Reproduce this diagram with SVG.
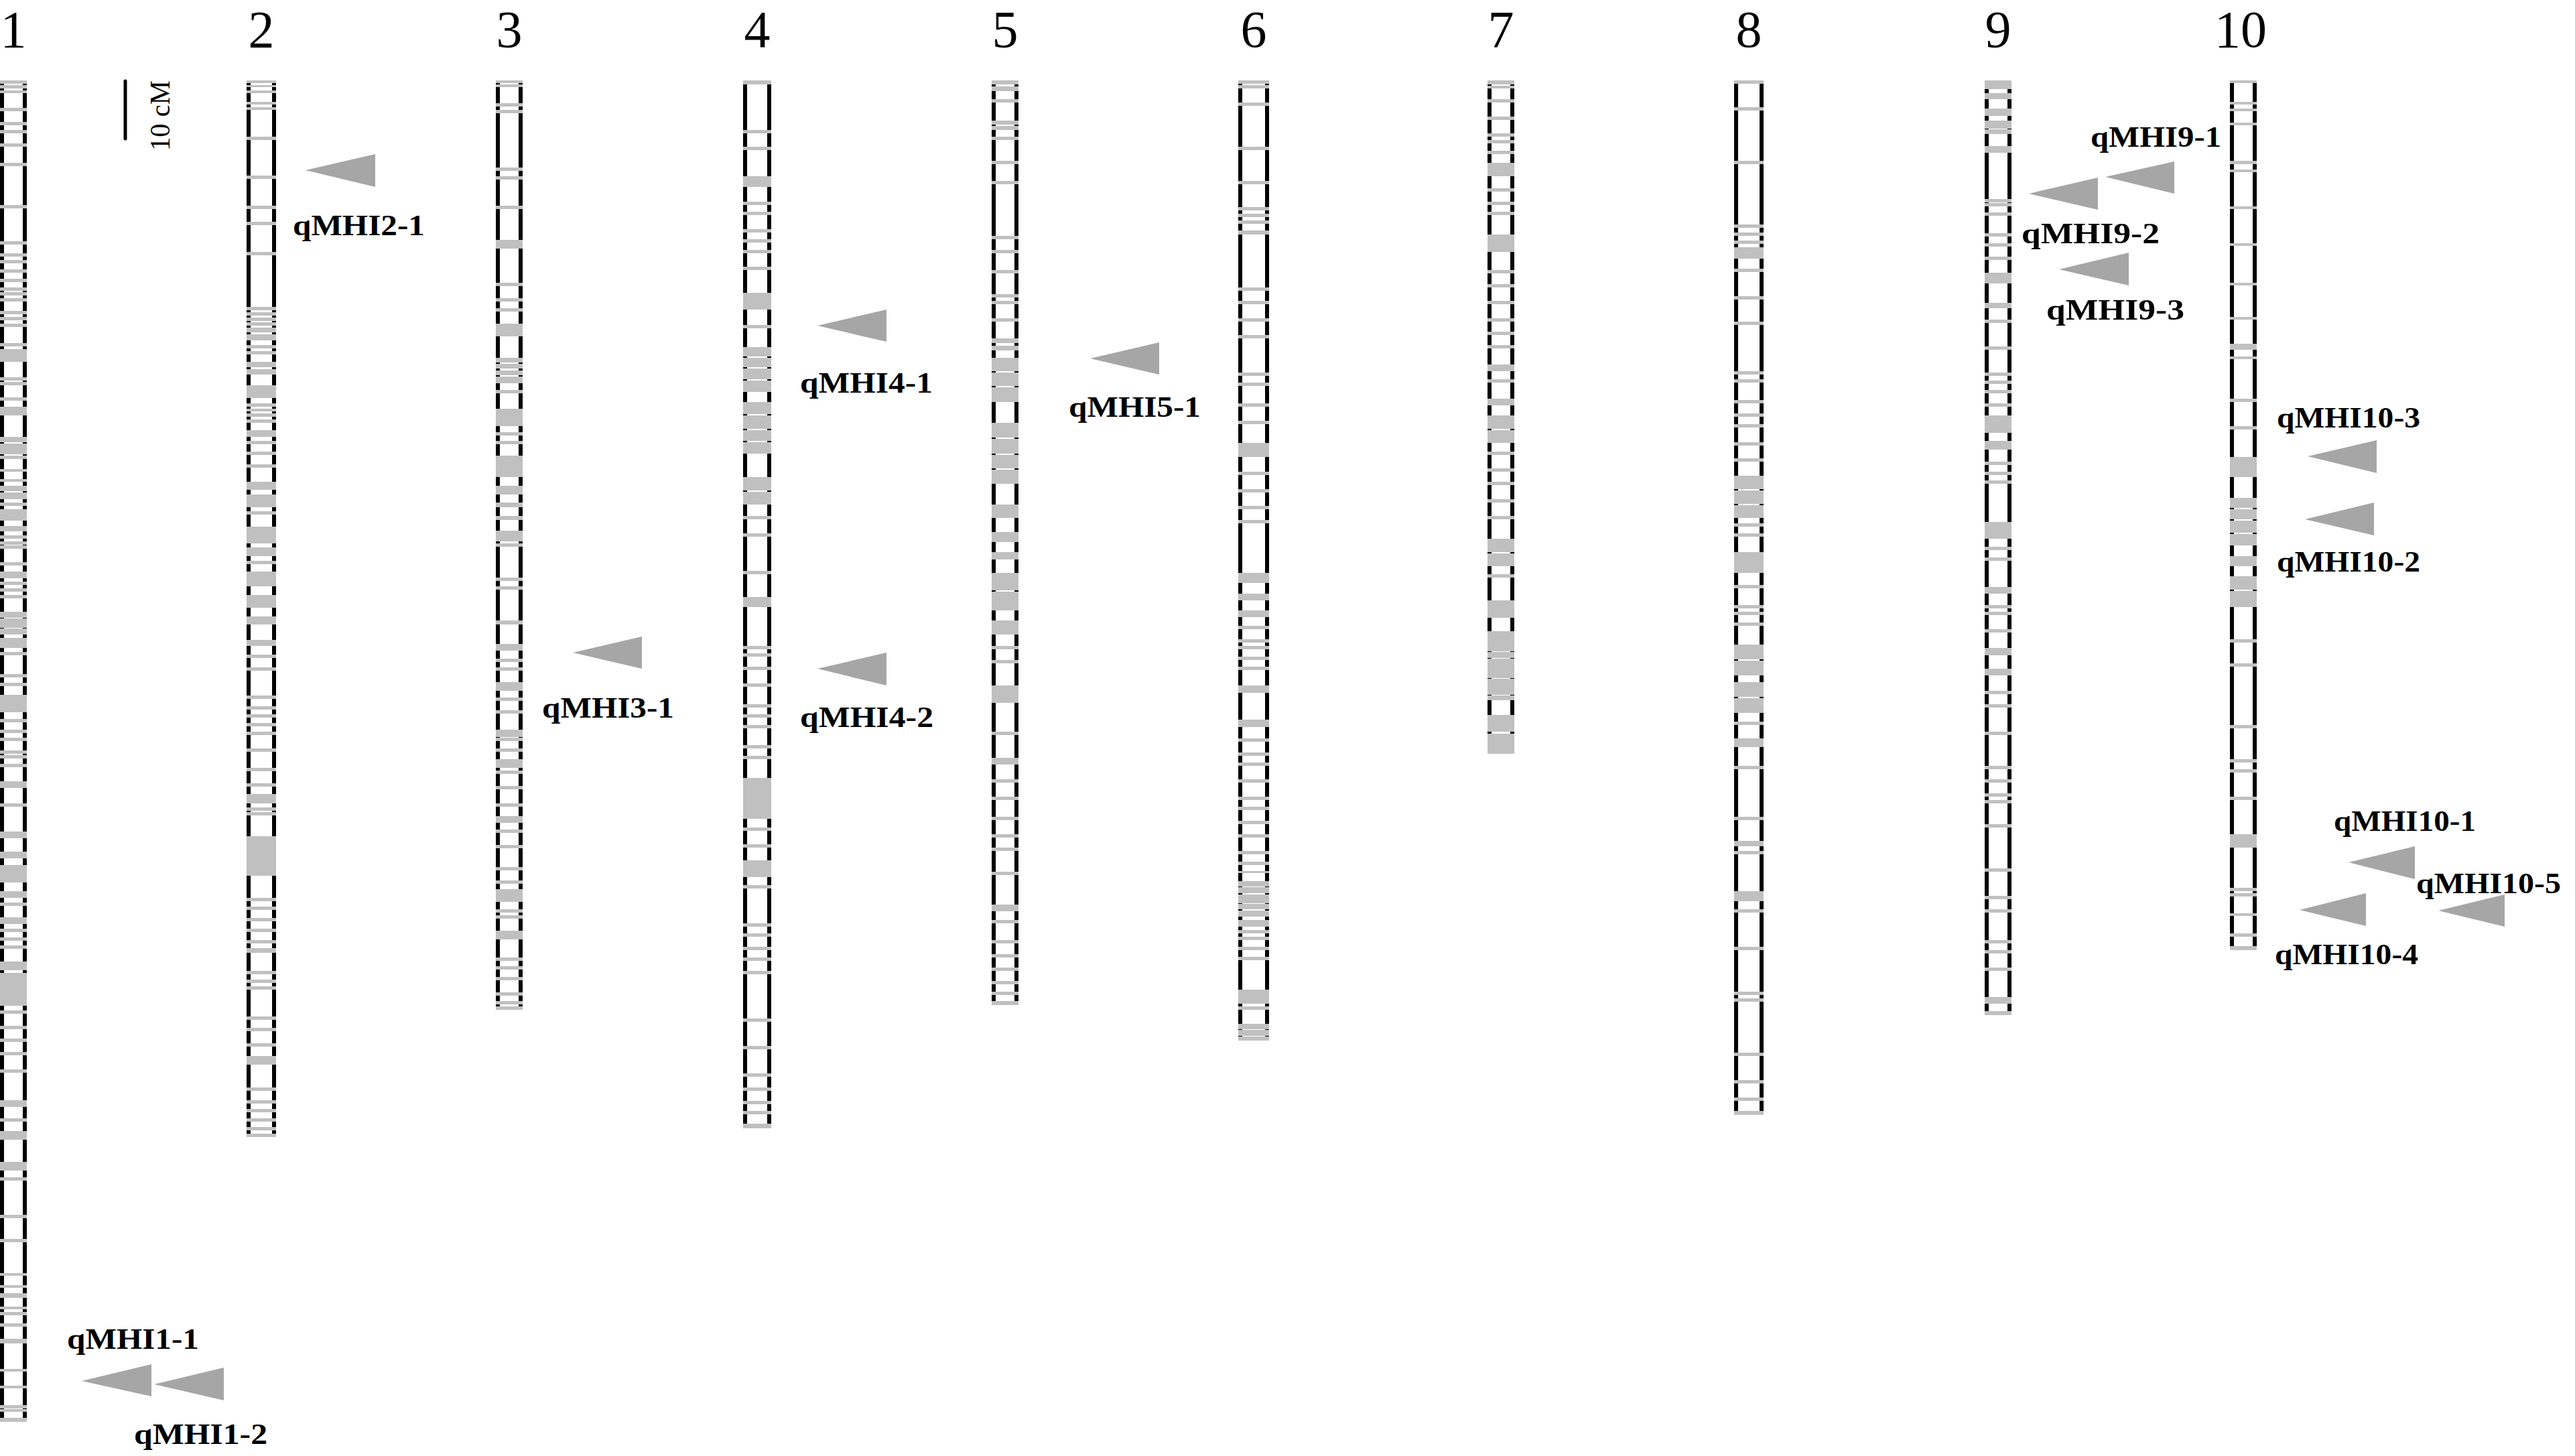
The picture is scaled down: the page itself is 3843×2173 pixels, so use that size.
<svg xmlns="http://www.w3.org/2000/svg" width="3843" height="2173" viewBox="0 0 3843 2173">
<style>
.edge{fill:#000}
.band{fill:#c0c0c0}
.num{font-family:"Liberation Serif","Times New Roman",serif;font-size:78px;text-anchor:middle;fill:#000}
.qtl{fill:#a6a6a6}
.lbl{font-family:"Liberation Serif","Times New Roman",serif;font-weight:bold;font-size:45px;fill:#000}
.scale{stroke:#000;stroke-width:5;stroke-linecap:round}
.scaletxt{font-family:"Liberation Serif","Times New Roman",serif;font-size:43px;fill:#000}
</style>
<rect width="3843" height="2173" fill="#fff"/>
<g id="scalebar">
<line class="scale" x1="187" y1="121" x2="187" y2="207"/>
<text class="scaletxt" transform="translate(253,225) rotate(-90)" textLength="105" lengthAdjust="spacingAndGlyphs">10 cM</text>
</g>
<g id="chr1" transform="translate(0,0)">
<text class="num" x="20" y="70">1</text>
<rect class="edge" x="0" y="120" width="6" height="2002"/><rect class="edge" x="34" y="120" width="6" height="2002"/>
<path class="band" d="M0 120h40v5h-40z M0 127h40v5h-40z M0 135h40v4h-40z M0 161h40v5h-40z M0 182h40v5h-40z M0 194h40v5h-40z M0 214h40v5h-40z M0 243h40v5h-40z M0 306h40v5h-40z M0 360h40v5h-40z M0 378h40v5h-40z M0 388h40v5h-40z M0 402h40v5h-40z M0 416h40v5h-40z M0 429h40v5h-40z M0 436h40v5h-40z M0 445h40v5h-40z M0 464h40v5h-40z M0 473h40v5h-40z M0 483h40v5h-40z M0 512h40v5h-40z M0 521h40v19h-40z M0 563h40v5h-40z M0 570h40v5h-40z M0 593h40v5h-40z M0 607h40v13h-40z M0 652h40v8h-40z M0 662h40v16h-40z M0 680h40v5h-40z M0 700h40v4h-40z M0 715h40v4h-40z M0 725h40v8h-40z M0 735h40v10h-40z M0 750h40v5h-40z M0 760h40v17h-40z M0 785h40v8h-40z M0 799h40v5h-40z M0 808h40v5h-40z M0 814h40v5h-40z M0 839h40v5h-40z M0 853h40v10h-40z M0 868h40v5h-40z M0 878h40v5h-40z M0 888h40v5h-40z M0 913h40v9h-40z M0 923h40v14h-40z M0 938h40v9h-40z M0 952h40v15h-40z M0 973h40v5h-40z M0 1006h40v5h-40z M0 1019h40v5h-40z M0 1037h40v26h-40z M0 1073h40v5h-40z M0 1089h40v5h-40z M0 1101h40v5h-40z M0 1120h40v5h-40z M0 1127h40v5h-40z M0 1140h40v5h-40z M0 1166h40v10h-40z M0 1199h40v5h-40z M0 1241h40v10h-40z M0 1271h40v10h-40z M0 1291h40v26h-40z M0 1330h40v10h-40z M0 1347h40v5h-40z M0 1369h40v10h-40z M0 1386h40v5h-40z M0 1399h40v5h-40z M0 1411h40v5h-40z M0 1435h40v13h-40z M0 1452h40v49h-40z M0 1508h40v5h-40z M0 1531h40v5h-40z M0 1550h40v5h-40z M0 1570h40v5h-40z M0 1596h40v5h-40z M0 1642h40v10h-40z M0 1669h40v5h-40z M0 1688h40v13h-40z M0 1734h40v13h-40z M0 1757h40v5h-40z M0 1813h40v5h-40z M0 1849h40v5h-40z M0 1900h40v4h-40z M0 1918h40v4h-40z M0 1930h40v7h-40z M0 1950h40v4h-40z M0 1958h40v5h-40z M0 1975h40v5h-40z M0 1998h40v7h-40z M0 2043h40v4h-40z M0 2068h40v4h-40z M0 2097h40v5h-40z M0 2103h40v4h-40z M0 2116h40v6h-40z"/>
</g>
<g id="chr2" transform="translate(368,0)">
<text class="num" x="22" y="70">2</text>
<rect class="edge" x="0" y="120" width="6" height="1577"/><rect class="edge" x="38" y="120" width="6" height="1577"/>
<path class="band" d="M0 120h44v4h-44z M0 127h44v3h-44z M0 135h44v4h-44z M0 152h44v4h-44z M0 160h44v4h-44z M0 204h44v5h-44z M0 262h44v5h-44z M0 307h44v5h-44z M0 331h44v5h-44z M0 376h44v5h-44z M0 458h44v5h-44z M0 466h44v5h-44z M0 474h44v5h-44z M0 481h44v5h-44z M0 489h44v7h-44z M0 499h44v9h-44z M0 515h44v5h-44z M0 524h44v5h-44z M0 540h44v8h-44z M0 551h44v8h-44z M0 575h44v19h-44z M0 602h44v5h-44z M0 610h44v4h-44z M0 617h44v5h-44z M0 626h44v5h-44z M0 642h44v10h-44z M0 658h44v5h-44z M0 674h44v5h-44z M0 693h44v5h-44z M0 719h44v12h-44z M0 738h44v19h-44z M0 763h44v5h-44z M0 786h44v25h-44z M0 817h44v13h-44z M0 837h44v5h-44z M0 853h44v22h-44z M0 888h44v19h-44z M0 920h44v12h-44z M0 955h44v9h-44z M0 977h44v5h-44z M0 996h44v5h-44z M0 1038h44v5h-44z M0 1054h44v5h-44z M0 1066h44v5h-44z M0 1079h44v5h-44z M0 1092h44v5h-44z M0 1117h44v5h-44z M0 1146h44v5h-44z M0 1169h44v5h-44z M0 1185h44v14h-44z M0 1205h44v5h-44z M0 1212h44v5h-44z M0 1248h44v59h-44z M0 1340h44v5h-44z M0 1353h44v5h-44z M0 1370h44v5h-44z M0 1386h44v5h-44z M0 1403h44v5h-44z M0 1415h44v7h-44z M0 1449h44v5h-44z M0 1462h44v5h-44z M0 1472h44v5h-44z M0 1517h44v5h-44z M0 1534h44v5h-44z M0 1557h44v5h-44z M0 1576h44v13h-44z M0 1623h44v5h-44z M0 1642h44v5h-44z M0 1655h44v5h-44z M0 1669h44v5h-44z M0 1682h44v5h-44z M0 1692h44v5h-44z"/>
</g>
<g id="chr3" transform="translate(740,0)">
<text class="num" x="20" y="70">3</text>
<rect class="edge" x="0" y="120" width="6" height="1387"/><rect class="edge" x="34" y="120" width="6" height="1387"/>
<path class="band" d="M0 120h40v4h-40z M0 126h40v4h-40z M0 154h40v5h-40z M0 164h40v5h-40z M0 250h40v5h-40z M0 263h40v5h-40z M0 307h40v5h-40z M0 358h40v13h-40z M0 422h40v5h-40z M0 445h40v5h-40z M0 460h40v5h-40z M0 483h40v19h-40z M0 534h40v7h-40z M0 543h40v7h-40z M0 553h40v7h-40z M0 562h40v10h-40z M0 582h40v5h-40z M0 610h40v26h-40z M0 645h40v5h-40z M0 658h40v5h-40z M0 680h40v32h-40z M0 725h40v13h-40z M0 750h40v7h-40z M0 770h40v6h-40z M0 792h40v16h-40z M0 811h40v5h-40z M0 862h40v5h-40z M0 875h40v5h-40z M0 926h40v6h-40z M0 961h40v10h-40z M0 983h40v5h-40z M0 996h40v5h-40z M0 1018h40v13h-40z M0 1041h40v5h-40z M0 1060h40v5h-40z M0 1089h40v11h-40z M0 1101h40v5h-40z M0 1117h40v5h-40z M0 1133h40v13h-40z M0 1150h40v5h-40z M0 1173h40v5h-40z M0 1199h40v5h-40z M0 1218h40v10h-40z M0 1238h40v5h-40z M0 1261h40v5h-40z M0 1294h40v5h-40z M0 1314h40v5h-40z M0 1327h40v19h-40z M0 1357h40v5h-40z M0 1366h40v5h-40z M0 1389h40v13h-40z M0 1429h40v5h-40z M0 1442h40v5h-40z M0 1458h40v5h-40z M0 1481h40v5h-40z M0 1494h40v5h-40z M0 1502h40v5h-40z"/>
</g>
<g id="chr4" transform="translate(1109,0)">
<text class="num" x="21" y="70">4</text>
<rect class="edge" x="0" y="120" width="6" height="1564"/><rect class="edge" x="36" y="120" width="6" height="1564"/>
<path class="band" d="M0 120h42v6h-42z M0 194h42v5h-42z M0 219h42v5h-42z M0 263h42v16h-42z M0 301h42v5h-42z M0 316h42v5h-42z M0 342h42v5h-42z M0 357h42v5h-42z M0 373h42v5h-42z M0 398h42v5h-42z M0 437h42v25h-42z M0 485h42v5h-42z M0 518h42v14h-42z M0 534h42v14h-42z M0 550h42v16h-42z M0 568h42v17h-42z M0 600h42v18h-42z M0 620h42v20h-42z M0 642h42v16h-42z M0 660h42v17h-42z M0 712h42v20h-42z M0 734h42v19h-42z M0 770h42v5h-42z M0 796h42v5h-42z M0 852h42v5h-42z M0 891h42v15h-42z M0 964h42v5h-42z M0 975h42v5h-42z M0 995h42v5h-42z M0 1020h42v5h-42z M0 1051h42v5h-42z M0 1066h42v5h-42z M0 1082h42v5h-42z M0 1112h42v5h-42z M0 1128h42v5h-42z M0 1161h42v61h-42z M0 1235h42v5h-42z M0 1260h42v5h-42z M0 1284h42v25h-42z M0 1321h42v5h-42z M0 1378h42v5h-42z M0 1393h42v5h-42z M0 1413h42v5h-42z M0 1429h42v5h-42z M0 1449h42v5h-42z M0 1520h42v5h-42z M0 1561h42v5h-42z M0 1602h42v5h-42z M0 1623h42v5h-42z M0 1643h42v5h-42z M0 1658h42v5h-42z M0 1677h42v7h-42z"/>
</g>
<g id="chr5" transform="translate(1480,0)">
<text class="num" x="20" y="70">5</text>
<rect class="edge" x="0" y="120" width="6" height="1380"/><rect class="edge" x="34" y="120" width="6" height="1380"/>
<path class="band" d="M0 120h40v6h-40z M0 129h40v7h-40z M0 148h40v5h-40z M0 180h40v6h-40z M0 188h40v6h-40z M0 204h40v5h-40z M0 240h40v5h-40z M0 270h40v5h-40z M0 352h40v5h-40z M0 373h40v5h-40z M0 403h40v5h-40z M0 439h40v5h-40z M0 449h40v5h-40z M0 475h40v5h-40z M0 505h40v7h-40z M0 516h40v7h-40z M0 534h40v20h-40z M0 556h40v20h-40z M0 578h40v22h-40z M0 631h40v22h-40z M0 655h40v22h-40z M0 679h40v20h-40z M0 701h40v21h-40z M0 753h40v20h-40z M0 794h40v15h-40z M0 824h40v11h-40z M0 855h40v26h-40z M0 883h40v28h-40z M0 926h40v21h-40z M0 964h40v5h-40z M0 985h40v5h-40z M0 1023h40v26h-40z M0 1092h40v5h-40z M0 1131h40v10h-40z M0 1163h40v5h-40z M0 1189h40v5h-40z M0 1219h40v5h-40z M0 1245h40v5h-40z M0 1265h40v5h-40z M0 1301h40v5h-40z M0 1350h40v10h-40z M0 1373h40v5h-40z M0 1403h40v5h-40z M0 1424h40v5h-40z M0 1444h40v5h-40z M0 1464h40v5h-40z M0 1480h40v5h-40z M0 1494h40v6h-40z"/>
</g>
<g id="chr6" transform="translate(1848,0)">
<text class="num" x="23" y="70">6</text>
<rect class="edge" x="0" y="120" width="6" height="1433"/><rect class="edge" x="40" y="120" width="6" height="1433"/>
<path class="band" d="M0 120h46v5h-46z M0 127h46v5h-46z M0 153h46v5h-46z M0 219h46v5h-46z M0 270h46v5h-46z M0 309h46v5h-46z M0 319h46v5h-46z M0 329h46v5h-46z M0 344h46v6h-46z M0 429h46v5h-46z M0 449h46v5h-46z M0 475h46v5h-46z M0 500h46v5h-46z M0 556h46v5h-46z M0 571h46v5h-46z M0 602h46v5h-46z M0 628h46v5h-46z M0 661h46v21h-46z M0 704h46v5h-46z M0 730h46v5h-46z M0 755h46v5h-46z M0 776h46v5h-46z M0 855h46v15h-46z M0 886h46v10h-46z M0 911h46v10h-46z M0 934h46v5h-46z M0 954h46v5h-46z M0 964h46v5h-46z M0 980h46v5h-46z M0 995h46v5h-46z M0 1023h46v11h-46z M0 1074h46v11h-46z M0 1102h46v5h-46z M0 1123h46v5h-46z M0 1138h46v5h-46z M0 1163h46v5h-46z M0 1189h46v5h-46z M0 1204h46v5h-46z M0 1225h46v5h-46z M0 1245h46v5h-46z M0 1270h46v5h-46z M0 1286h46v5h-46z M0 1300h46v3h-46z M0 1315h46v8h-46z M0 1324h46v9h-46z M0 1335h46v13h-46z M0 1349h46v8h-46z M0 1359h46v9h-46z M0 1373h46v10h-46z M0 1388h46v5h-46z M0 1398h46v5h-46z M0 1413h46v5h-46z M0 1428h46v5h-46z M0 1477h46v21h-46z M0 1502h46v5h-46z M0 1528h46v8h-46z M0 1537h46v9h-46z M0 1547h46v6h-46z"/>
</g>
<g id="chr7" transform="translate(2220,0)">
<text class="num" x="20" y="70">7</text>
<rect class="edge" x="0" y="120" width="6" height="1005"/><rect class="edge" x="34" y="120" width="6" height="1005"/>
<path class="band" d="M0 120h40v6h-40z M0 128h40v4h-40z M0 148h40v5h-40z M0 174h40v5h-40z M0 199h40v5h-40z M0 209h40v5h-40z M0 225h40v5h-40z M0 243h40v20h-40z M0 281h40v5h-40z M0 301h40v5h-40z M0 316h40v5h-40z M0 350h40v26h-40z M0 403h40v5h-40z M0 424h40v5h-40z M0 449h40v5h-40z M0 475h40v5h-40z M0 495h40v5h-40z M0 515h40v5h-40z M0 544h40v10h-40z M0 566h40v5h-40z M0 595h40v10h-40z M0 620h40v20h-40z M0 642h40v19h-40z M0 674h40v5h-40z M0 699h40v5h-40z M0 719h40v5h-40z M0 745h40v5h-40z M0 770h40v5h-40z M0 804h40v20h-40z M0 826h40v19h-40z M0 857h40v5h-40z M0 896h40v26h-40z M0 942h40v30h-40z M0 973h40v9h-40z M0 983h40v29h-40z M0 1013h40v24h-40z M0 1038h40v7h-40z M0 1067h40v25h-40z M0 1095h40v30h-40z"/>
</g>
<g id="chr8" transform="translate(2588,0)">
<text class="num" x="22" y="70">8</text>
<rect class="edge" x="0" y="120" width="6" height="1544"/><rect class="edge" x="38" y="120" width="6" height="1544"/>
<path class="band" d="M0 120h44v5h-44z M0 160h44v5h-44z M0 240h44v5h-44z M0 335h44v5h-44z M0 347h44v5h-44z M0 359h44v5h-44z M0 369h44v17h-44z M0 401h44v5h-44z M0 442h44v5h-44z M0 480h44v5h-44z M0 554h44v5h-44z M0 566h44v5h-44z M0 597h44v5h-44z M0 617h44v5h-44z M0 633h44v5h-44z M0 660h44v5h-44z M0 684h44v5h-44z M0 710h44v20h-44z M0 732h44v20h-44z M0 754h44v19h-44z M0 781h44v5h-44z M0 796h44v5h-44z M0 824h44v31h-44z M0 873h44v5h-44z M0 903h44v5h-44z M0 913h44v5h-44z M0 929h44v5h-44z M0 962h44v22h-44z M0 986h44v22h-44z M0 1018h44v22h-44z M0 1042h44v22h-44z M0 1077h44v5h-44z M0 1102h44v13h-44z M0 1143h44v5h-44z M0 1219h44v5h-44z M0 1255h44v8h-44z M0 1270h44v5h-44z M0 1330h44v15h-44z M0 1357h44v5h-44z M0 1413h44v5h-44z M0 1480h44v5h-44z M0 1490h44v5h-44z M0 1571h44v5h-44z M0 1612h44v5h-44z M0 1638h44v5h-44z M0 1658h44v6h-44z"/>
</g>
<g id="chr9" transform="translate(2962,0)">
<text class="num" x="20" y="70">9</text>
<rect class="edge" x="0" y="120" width="6" height="1395"/><rect class="edge" x="34" y="120" width="6" height="1395"/>
<path class="band" d="M0 120h40v13h-40z M0 139h40v9h-40z M0 162h40v11h-40z M0 180h40v12h-40z M0 193h40v7h-40z M0 218h40v10h-40z M0 297h40v5h-40z M0 303h40v5h-40z M0 317h40v5h-40z M0 348h40v5h-40z M0 363h40v5h-40z M0 383h40v5h-40z M0 407h40v6h-40z M0 413h40v10h-40z M0 452h40v8h-40z M0 477h40v5h-40z M0 517h40v5h-40z M0 556h40v5h-40z M0 568h40v5h-40z M0 582h40v5h-40z M0 602h40v5h-40z M0 620h40v26h-40z M0 658h40v13h-40z M0 689h40v5h-40z M0 704h40v5h-40z M0 717h40v5h-40z M0 779h40v25h-40z M0 816h40v5h-40z M0 832h40v5h-40z M0 876h40v10h-40z M0 903h40v5h-40z M0 913h40v5h-40z M0 939h40v5h-40z M0 967h40v11h-40z M0 998h40v10h-40z M0 1031h40v5h-40z M0 1051h40v5h-40z M0 1092h40v5h-40z M0 1143h40v5h-40z M0 1163h40v5h-40z M0 1184h40v5h-40z M0 1194h40v5h-40z M0 1230h40v5h-40z M0 1296h40v5h-40z M0 1337h40v5h-40z M0 1357h40v5h-40z M0 1403h40v5h-40z M0 1418h40v5h-40z M0 1444h40v5h-40z M0 1488h40v10h-40z M0 1509h40v6h-40z"/>
</g>
<g id="chr10" transform="translate(3328,0)">
<text class="num" x="16" y="70">10</text>
<rect class="edge" x="0" y="120" width="6" height="1298"/><rect class="edge" x="34" y="120" width="6" height="1298"/>
<path class="band" d="M0 120h40v4h-40z M0 152h40v4h-40z M0 162h40v4h-40z M0 183h40v4h-40z M0 240h40v5h-40z M0 253h40v4h-40z M0 308h40v4h-40z M0 363h40v4h-40z M0 422h40v4h-40z M0 473h40v4h-40z M0 513h40v9h-40z M0 532h40v4h-40z M0 595h40v5h-40z M0 636h40v5h-40z M0 682h40v30h-40z M0 743h40v15h-40z M0 760h40v15h-40z M0 777h40v18h-40z M0 797h40v17h-40z M0 830h40v15h-40z M0 860h40v20h-40z M0 882h40v24h-40z M0 954h40v5h-40z M0 990h40v5h-40z M0 1082h40v5h-40z M0 1133h40v5h-40z M0 1148h40v5h-40z M0 1189h40v5h-40z M0 1245h40v20h-40z M0 1325h40v5h-40z M0 1333h40v5h-40z M0 1363h40v4h-40z M0 1393h40v5h-40z M0 1412h40v6h-40z"/>
</g>
<g id="qMHI1-1"><polygon class="qtl" points="122,2061 226,2036 226,2084"/><text class="lbl" x="100" y="2013" textLength="197" lengthAdjust="spacingAndGlyphs">qMHI1-1</text></g>
<g id="qMHI1-2"><polygon class="qtl" points="230,2066 334,2041 334,2090"/><text class="lbl" x="200" y="2155" textLength="199" lengthAdjust="spacingAndGlyphs">qMHI1-2</text></g>
<g id="qMHI2-1"><polygon class="qtl" points="456,254 560,230 560,279"/><text class="lbl" x="437" y="351" textLength="197" lengthAdjust="spacingAndGlyphs">qMHI2-1</text></g>
<g id="qMHI3-1"><polygon class="qtl" points="855,974 958,950 958,998"/><text class="lbl" x="809" y="1071" textLength="197" lengthAdjust="spacingAndGlyphs">qMHI3-1</text></g>
<g id="qMHI4-1"><polygon class="qtl" points="1220,486 1323,462 1323,510"/><text class="lbl" x="1194" y="586" textLength="198" lengthAdjust="spacingAndGlyphs">qMHI4-1</text></g>
<g id="qMHI4-2"><polygon class="qtl" points="1220,998 1323,974 1323,1023"/><text class="lbl" x="1194" y="1085" textLength="199" lengthAdjust="spacingAndGlyphs">qMHI4-2</text></g>
<g id="qMHI5-1"><polygon class="qtl" points="1627,535 1730,511 1730,559"/><text class="lbl" x="1595" y="622" textLength="197" lengthAdjust="spacingAndGlyphs">qMHI5-1</text></g>
<g id="qMHI9-1"><polygon class="qtl" points="3142,264 3245,241 3245,289"/><text class="lbl" x="3120" y="219" textLength="195" lengthAdjust="spacingAndGlyphs">qMHI9-1</text></g>
<g id="qMHI9-2"><polygon class="qtl" points="3028,289 3131,265 3131,313"/><text class="lbl" x="3017" y="363" textLength="206" lengthAdjust="spacingAndGlyphs">qMHI9-2</text></g>
<g id="qMHI9-3"><polygon class="qtl" points="3073,402 3177,377 3177,426"/><text class="lbl" x="3054" y="477" textLength="206" lengthAdjust="spacingAndGlyphs">qMHI9-3</text></g>
<g id="qMHI10-3"><polygon class="qtl" points="3444,681 3547,657 3547,706"/><text class="lbl" x="3398" y="638" textLength="214" lengthAdjust="spacingAndGlyphs">qMHI10-3</text></g>
<g id="qMHI10-2"><polygon class="qtl" points="3440,775 3543,750 3543,799"/><text class="lbl" x="3398" y="853" textLength="214" lengthAdjust="spacingAndGlyphs">qMHI10-2</text></g>
<g id="qMHI10-1"><polygon class="qtl" points="3505,1287 3604,1263 3604,1312"/><text class="lbl" x="3483" y="1240" textLength="212" lengthAdjust="spacingAndGlyphs">qMHI10-1</text></g>
<g id="qMHI10-5"><polygon class="qtl" points="3639,1359 3738,1335 3738,1383"/><text class="lbl" x="3606" y="1333" textLength="216" lengthAdjust="spacingAndGlyphs">qMHI10-5</text></g>
<g id="qMHI10-4"><polygon class="qtl" points="3432,1358 3531,1333 3531,1382"/><text class="lbl" x="3395" y="1439" textLength="214" lengthAdjust="spacingAndGlyphs">qMHI10-4</text></g>
<g id="connectors"/>
</svg>
